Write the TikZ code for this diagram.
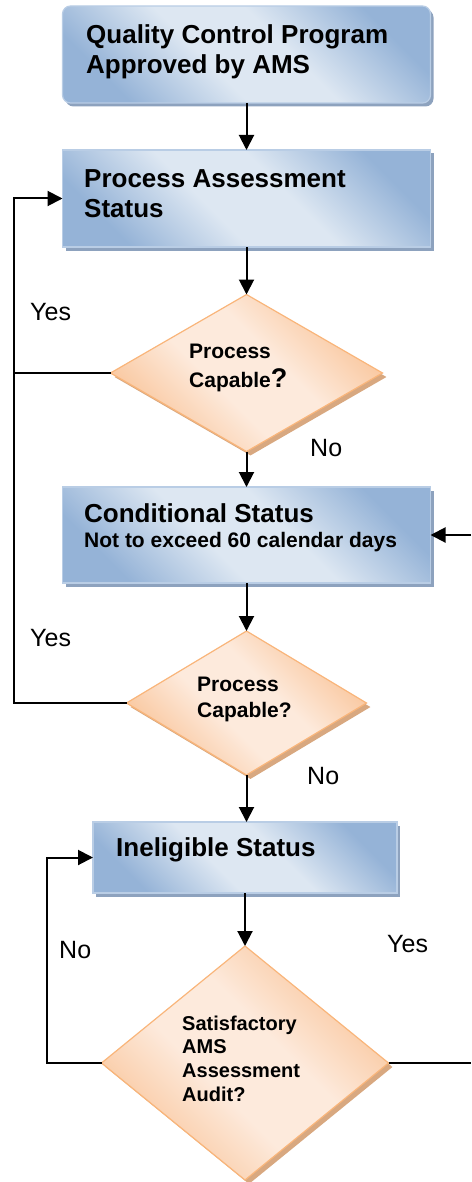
\documentclass[tikz,border=0pt]{standalone}
\usepackage{fontspec}
\setmainfont{Liberation Sans}
\usetikzlibrary{shapes.geometric,arrows.meta}
\definecolor{boxdark}{HTML}{95B3D7}
\definecolor{boxlight}{HTML}{DDE7F2}
\definecolor{boxborder}{HTML}{B9CDE5}
\definecolor{boxshad}{HTML}{8DA2BE}
\definecolor{diadark}{HTML}{F9C499}
\definecolor{dialight}{HTML}{FDEADC}
\definecolor{diaborder}{HTML}{F9B57A}
\definecolor{diashad}{HTML}{D8A880}
\pgfdeclareverticalshading{boxsh}{100bp}{color(0bp)=(boxdark); color(25bp)=(boxdark); color(43bp)=(boxlight); color(57bp)=(boxlight); color(75bp)=(boxdark); color(100bp)=(boxdark)}
\pgfdeclareverticalshading{diash}{100bp}{color(0bp)=(diadark); color(25bp)=(diadark); color(43bp)=(dialight); color(57bp)=(dialight); color(75bp)=(diadark); color(100bp)=(diadark)}
\begin{document}
\begin{tikzpicture}[x=1pt,y=-1pt,
  boxshape/.style={rectangle, draw=boxborder, line width=1.2pt, shade, shading=boxsh, shading angle=-45, inner sep=0pt, outer sep=0pt},
  boxshadow/.style={rectangle, fill=boxshad, inner sep=0pt},
  dia/.style={diamond, draw=diaborder, line width=1.2pt, shade, shading=diash, shading angle=-45, inner sep=0pt, outer sep=0pt},
  diashadow/.style={diamond, fill=diashad, inner sep=0pt},
  btext/.style={anchor=west, align=left, inner sep=0pt, font=\fontsize{26}{30}\selectfont\bfseries},
  stext/.style={anchor=west, align=left, inner sep=0pt, font=\fontsize{21}{29}\selectfont\bfseries},
  dtext/.style={anchor=west, align=left, inner sep=0pt, font=\fontsize{21}{26}\selectfont\bfseries},
  d3text/.style={anchor=west, align=left, inner sep=0pt, font=\fontsize{20}{23.7}\selectfont\bfseries},
  lbl/.style={anchor=west, inner sep=0pt, font=\fontsize{25}{28}\selectfont},
  conn/.style={line width=2pt, -{Triangle[length=15pt,width=15pt]}},
  plainline/.style={line width=2pt}
]
\useasboundingbox (0,0) rectangle (471,1182);

% box 1
\node[boxshadow, rounded corners=8pt, minimum width=368pt, minimum height=97pt] (b1s) at (249.5,58) {};
\node[boxshape, rounded corners=8pt, minimum width=368pt, minimum height=97pt] (b1) at (246.5,54.5) {};
\node[btext] (t1) at (86,52) {Quality Control Program\\Approved by AMS};

% box 2
\node[boxshadow, minimum width=368pt, minimum height=97pt] (b2s) at (249.5,202) {};
\node[boxshape, minimum width=368pt, minimum height=97pt] (b2) at (246.5,198.5) {};
\node[btext] (t2) at (84,193.5) {Process Assessment\\Status};

% diamond 1
\node[diashadow, minimum width=272pt, minimum height=157pt] (d1s) at (250.5,377) {};
\node[dia, minimum width=272pt, minimum height=157pt] (d1) at (246.5,373) {};
\node[stext] (t3) at (189,367.5) {Process\\Capable{\fontsize{27}{29}\selectfont ?}};

% box 3
\node[boxshadow, minimum width=368pt, minimum height=96pt] (b3s) at (249.5,538.5) {};
\node[boxshape, minimum width=368pt, minimum height=96pt] (b3) at (246.5,535) {};
\node[btext] (t4) at (84,513) {Conditional Status};
\node[anchor=west, inner sep=0pt, font=\fontsize{21}{24}\selectfont\bfseries] (t5) at (84,542) {Not to exceed 60 calendar days};

% diamond 2
\node[diashadow, minimum width=240pt, minimum height=144pt] (d2s) at (250.5,707) {};
\node[dia, minimum width=240pt, minimum height=144pt] (d2) at (246.5,703) {};
\node[dtext] (t6) at (197,699) {Process\\Capable?};

% box 4
\node[boxshadow, minimum width=304pt, minimum height=71pt] (b4s) at (248,861) {};
\node[boxshape, minimum width=304pt, minimum height=71pt] (b4) at (245,857.5) {};
\node[btext] (t7) at (116,850) {Ineligible Status};

% diamond 3
\node[diashadow, minimum width=287pt, minimum height=234pt] (d3s) at (249,1067) {};
\node[dia, minimum width=287pt, minimum height=234pt] (d3) at (245,1063) {};
\node[d3text] (t8) at (182,1058.5) {Satisfactory\\AMS\\Assessment\\Audit?};

% labels
\node[lbl] (y1) at (30,312) {Yes};
\node[lbl] (n1) at (310,448) {No};
\node[lbl] (y2) at (30,638) {Yes};
\node[lbl] (n2) at (307,776) {No};
\node[lbl] (n3) at (59,950) {No};
\node[lbl] (y3) at (387,944) {Yes};

% coordinates
\coordinate (L1) at (14,703);
\coordinate (L2) at (14,198.5);
\coordinate (L3) at (47,1063);
\coordinate (L4) at (47,857.5);
\coordinate (R1) at (471,535);
\coordinate (R2) at (471,1063);

% connectors
\draw[conn] (b1.south) -- (b2.north);
\draw[conn] (b2.south) -- (d1.north);
\draw[conn] (d1.south) -- (b3.north);
\draw[conn] (b3.south) -- (d2.north);
\draw[conn] (d2.south) -- (d2.south |- b4.north);
\draw[conn] (b4.south) -- (d3.north);
\draw[conn] (d2.west) -- (L1) -- (L2) -- (b2.west);
\draw[plainline] (d1.west) -- (d1.west -| L1);
\draw[conn] (d3.west) -- (L3) -- (L4) -- (b4.west);
\draw[conn] (R1) -- (b3.east);
\draw[plainline] (d3.east) -- (R2);
\end{tikzpicture}
\end{document}
